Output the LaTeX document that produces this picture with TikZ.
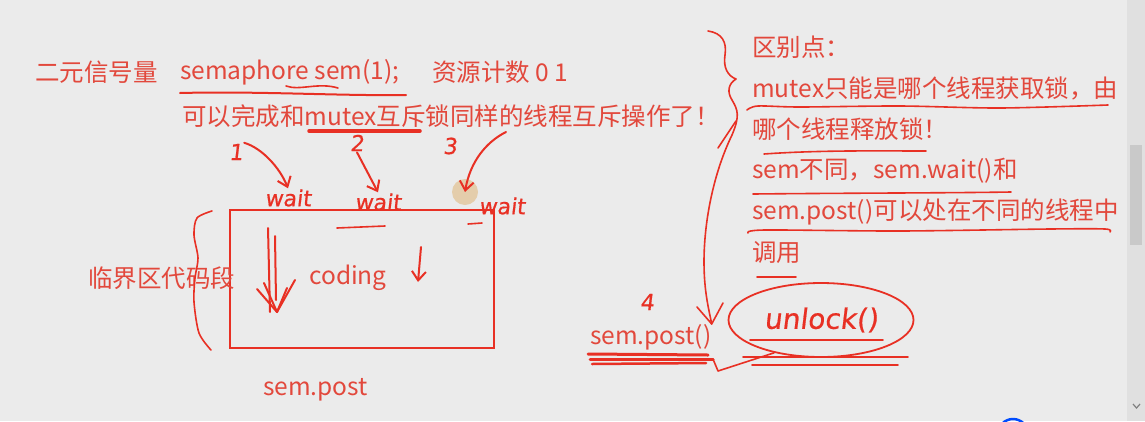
\documentclass[tikz,border=0pt]{standalone}
\usepackage{fontspec}
\setmainfont{Noto Sans CJK SC}
\newfontfamily\handfont[FakeSlant=0.12,FakeBold=0.6]{DejaVu Sans}
\usetikzlibrary{arrows.meta,calc,shapes.geometric}
\definecolor{bg}{RGB}{235,235,235}
\definecolor{txt}{RGB}{226,72,60}
\definecolor{ink}{RGB}{232,48,36}
\definecolor{sbar}{RGB}{224,224,224}
\definecolor{thumb}{RGB}{201,201,201}
\definecolor{hilite}{RGB}{226,196,150}
\tikzset{
  lbl/.style={text=txt, font=\fontsize{24.5}{28}\selectfont, inner sep=0pt, anchor=west},
  pen/.style={draw=ink, line width=2pt, line cap=round, line join=round},
  thin pen/.style={pen, line width=1.6pt},
  hand/.style={text=ink, font=\handfont\fontsize{22}{26}\selectfont, inner sep=1pt},
  barb/.style={-{Straight Barb[length=9pt,width=14pt,line width=2pt]}},
}
\begin{document}
\begin{tikzpicture}[x=1pt,y=-1pt]
\fill[bg] (0,0) rectangle (1145,421);
\useasboundingbox (0,0) rectangle (1145,421);
% scrollbar
\fill[sbar] (1127,0) rectangle (1145,421);
\fill[thumb] (1130,145) rectangle (1142,245);
\draw[gray, line width=1.2pt] (1133,404) -- (1136.5,408) -- (1140,404);
\draw[blue!70!cyan, line width=2.5pt] (1013,434) circle (15);

% ---- top-left texts
\node[lbl] (t1) at (35,72) {二元信号量};
\node[lbl] (t2) at (180,72) {semaphore sem(1);};
\node[lbl] (t3) at (432,72) {资源计数 0 1};
\node[lbl] (t4) at (182,116) {可以完成和mutex互斥锁同样的线程互斥操作了！};
\draw[pen] (180,93) .. controls (260,91) and (340,96) .. (406,95);
\draw[thin pen] (286,86) .. controls (300,91) and (318,82) .. (338,88);
\draw[pen, line width=3.5pt] (309,131) -- (420,131);

% ---- numbers and waits
\node[hand] (n1) at (236,152) {1};
\node[hand] (n2) at (357,143) {2};
\node[hand] (n3) at (450,146) {3};
\node[hand] (w1) at (288,198) {wait};
\node[hand] (w2) at (378,202) {wait};
\node[hand] (w3) at (502,206) {wait};
\coordinate (a3s) at (506,132);
\node[circle, fill=hilite, opacity=0.75, minimum size=26pt, inner sep=0pt] (cur) at (465,192) {};
\draw[pen, barb] (n1.north east) .. controls (262,148) and (280,168) .. (w1.north);
\draw[pen, barb] (n2.south) -- (w2.north);
\draw[pen, barb] (a3s) .. controls (486,142) and (470,162) .. (cur.center);

% ---- box
\node[draw=ink, line width=2.2pt, minimum width=264pt, minimum height=138pt, anchor=north west, inner sep=0pt] (box) at (229,209) {};
\node[lbl, anchor=center] (cod) at (348,278) {coding};
\node[lbl] (crit) at (88,278) {临界区代码段};
\node[lbl] (sp1) at (263,390) {sem.post};
\draw[thin pen] plot[smooth] coordinates {(212,211) (197,218) (194,235) (198,258) (195,278) (194,302) (199,333) (211,350)};
\draw[pen] (268,228) -- (270,312);
\draw[pen] (275,236) -- (276,300);
\draw[pen] (257,289) -- (277,312) -- (295,280);
\draw[pen] (264,283) -- (277,312) -- (287,288);
\draw[pen, barb] (421,247) -- (418,282);
\draw[thin pen] (337,228) -- (385,226);
\draw[thin pen] (468,224) -- (482,223);

% ---- right texts
\node[lbl] (r1) at (752,47) {区别点：};
\node[lbl] (r2) at (752,88) {mutex只能是哪个线程获取锁，由};
\node[lbl] (r3) at (752,129) {哪个线程释放锁！};
\node[lbl] (r4) at (752,171) {sem不同，sem.wait()和};
\node[lbl] (r5) at (752,212) {sem.post()可以处在不同的线程中};
\node[lbl] (r6) at (752,253) {调用};
\draw[thin pen] plot[smooth] coordinates {(747,110) (758,106) (800,107) (900,106) (1000,108) (1108,105)};
\draw[thin pen] (764,154) .. controls (820,150) and (880,151) .. (926,151);
\draw[thin pen] (753,194) .. controls (850,193) and (950,193) .. (1011,192);
\draw[thin pen] plot[smooth] coordinates {(748,233) (765,230) (900,231) (1050,229) (1105,229) (1110,232)};
\draw[thin pen] (757,277) -- (796,277);

% ---- sem.post() and unlock
\node[lbl] (sp2) at (590,337) {sem.post()};
\node[hand] (n4) at (647,302) {4};
\node[draw=ink, line width=1.8pt, ellipse, minimum width=185pt, minimum height=74pt, inner sep=0pt,
      text=ink, font=\handfont\fontsize{28}{32}\selectfont] (ul) at (821,320) {unlock()};
\draw[thin pen] (750,340) -- (883,340);
\draw[thin pen] (743,357) -- (908,357);
\draw[thin pen] (752,365) -- (898,365);
\draw[pen, line width=3pt] (588,354) -- (708,355);
\draw[pen, line width=3pt] (590,359) -- (713,359);
\draw[pen, line width=2.5pt] (592,364) -- (706,363);
\draw[thin pen] (713,359) -- (718,371) -- (ul.215);

% ---- big brace with arrow
\draw[thin pen] (708,31) .. controls (722,33) and (727,42) .. (725,55)
  .. controls (723,68) and (728,76) .. (736,79)
  .. controls (728,84) and (727,92) .. (732,100)
  .. controls (738,110) and (740,116) .. (732,135)
  .. controls (714,172) and (704,220) .. (704,262)
  .. controls (704,292) and (709,310) .. (sp2.north east);
\draw[thin pen] (697,307) -- (sp2.north east) -- (723,303);
\draw[thin pen] (736,121) -- (718,148);
\end{tikzpicture}
\end{document}
